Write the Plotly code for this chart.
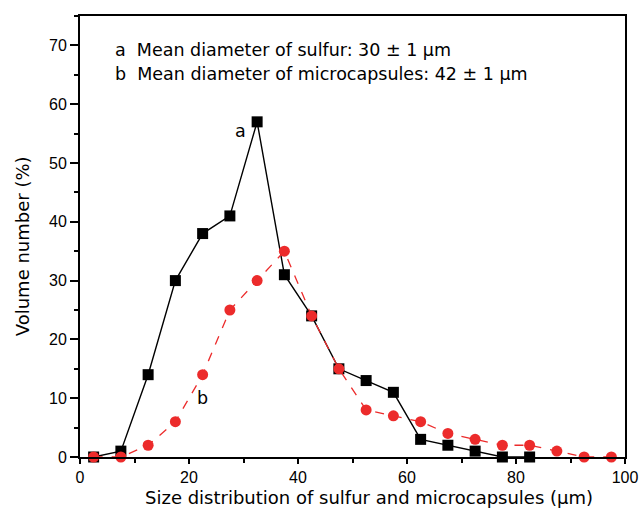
import plotly.graph_objects as go

sizes_a = [2.5, 7.5, 12.5, 17.5, 22.5, 27.5, 32.5, 37.5, 42.5, 47.5, 52.5, 57.5, 62.5, 67.5, 72.5, 77.5, 82.5]
volume_a = [0, 1, 14, 30, 38, 41, 57, 31, 24, 15, 13, 11, 3, 2, 1, 0, 0]

sizes_b = [2.5, 7.5, 12.5, 17.5, 22.5, 27.5, 32.5, 37.5, 42.5, 47.5, 52.5, 57.5, 62.5, 67.5, 72.5, 77.5, 82.5, 87.5, 92.5, 97.5]
volume_b = [0, 0, 2, 6, 14, 25, 30, 35, 24, 15, 8, 7, 6, 4, 3, 2, 2, 1, 0, 0]

FONT = "DejaVu Sans, sans-serif"
TICKFONT = "Liberation Sans, Arial, sans-serif"
RED = "#ec2b2b"

fig = go.Figure()
fig.add_trace(go.Scatter(
    x=sizes_a, y=volume_a, mode="lines+markers",
    line=dict(color="black", width=1.4),
    marker=dict(symbol="square", size=11, color="black"),
    cliponaxis=False, showlegend=False))
fig.add_trace(go.Scatter(
    x=sizes_b, y=volume_b, mode="lines+markers",
    line=dict(color=RED, width=1.3, dash="dash"),
    marker=dict(symbol="circle", size=11, color=RED),
    cliponaxis=False, showlegend=False))

axis_common = dict(
    showline=True, linecolor="black", linewidth=2, mirror=True, automargin=False,
    showgrid=False, zeroline=False, ticks="outside", tickwidth=1.5,
    tickcolor="black", tickfont=dict(family=TICKFONT, size=16, color="black"),
    ticklabeloverflow="allow",
)

fig.update_xaxes(range=[0, 100], dtick=20, tick0=0, ticklen=5,
                 minor=dict(dtick=10, ticklen=4, tickwidth=1.5, tickcolor="black", ticks="outside"),
                 **axis_common)
fig.update_yaxes(range=[0, 75], dtick=10, tick0=0, ticklen=8,
                 minor=dict(dtick=5, ticklen=4, tickwidth=1.5, tickcolor="black", ticks="outside"),
                 **axis_common)

title_font = dict(family=FONT, size=18, color="black")
fig.add_annotation(xref="paper", yref="paper", x=0.530, y=-0.0915, xanchor="center", yanchor="middle",
                   text="Size distribution of sulfur and microcapsules (μm)", showarrow=False, font=title_font)
fig.add_annotation(xref="paper", yref="paper", x=-0.1064, y=0.478, xanchor="center", yanchor="middle",
                   textangle=-90, text="Volume number (%)", showarrow=False, font=title_font)

anno_font = dict(family=FONT, size=17.5, color="black")
fig.add_annotation(xref="paper", yref="paper", x=0.06, y=0.922, xanchor="left", yanchor="middle",
                   text="a  Mean diameter of sulfur: 30 ± 1 μm", showarrow=False, font=anno_font)
fig.add_annotation(xref="paper", yref="paper", x=0.06, y=0.868, xanchor="left", yanchor="middle",
                   text="b  Mean diameter of microcapsules: 42 ± 1 μm", showarrow=False, font=anno_font)
fig.add_annotation(x=29.5, y=55.5, text="a", showarrow=False, font=anno_font)
fig.add_annotation(x=22.5, y=10, text="b", showarrow=False, font=anno_font)

fig.update_layout(
    width=639, height=509,
    margin=dict(l=80, r=14, t=16, b=52),
    plot_bgcolor="white", paper_bgcolor="white",
)

fig.write_html("out.html")
